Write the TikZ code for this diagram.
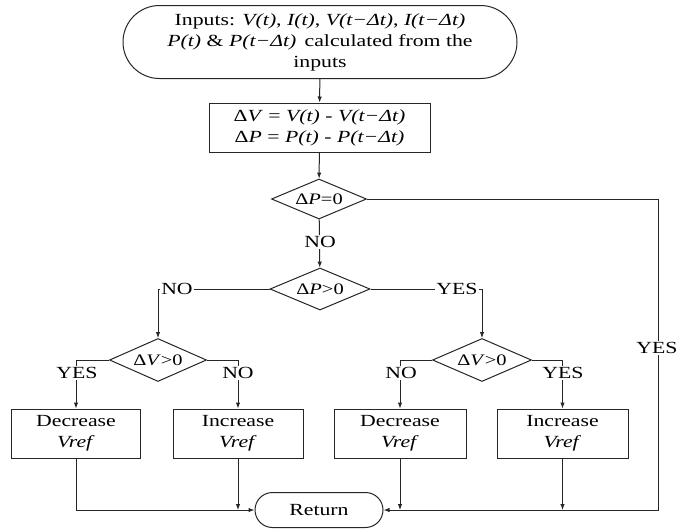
\documentclass[tikz,border=0pt]{standalone}
\usepackage{fontspec}
\setmainfont{Liberation Serif}[FakeStretch=1.28]
\usetikzlibrary{shapes.geometric,shapes.misc,arrows.meta}
\begin{document}
\begin{tikzpicture}[x=1pt,y=-1pt,
  every node/.style={font=\fontsize{17}{21}\selectfont, text=black},
  line/.style={draw=black!85, line width=1pt},
  arr/.style={line, -{Latex[length=6pt,width=4.5pt]}},
  term/.style={rounded rectangle, line, inner sep=0pt, align=center},
  procbox/.style={rectangle, line, inner sep=0pt, align=center, minimum height=49pt},
  decision/.style={diamond, line, inner sep=0pt, aspect=2.4, font=\fontsize{16}{19}\selectfont},
  lbl/.style={fill=white, inner sep=1pt}]
\useasboundingbox (0,0) rectangle (677,528);
\fill[white] (0,0) rectangle (677,528);

\node[term, minimum width=394pt, minimum height=73pt] (in) at (320,42)
  {Inputs: \textit{V(t)}, \textit{I(t)}, \textit{V(t−Δt)}, \textit{I(t−Δt)}\\
   \textit{P(t)} \& \textit{P(t−Δt)}\, calculated from the\\ inputs};
\node[procbox, minimum width=221pt] (calc) at (319.5,127.5)
  {Δ\textit{V} = \textit{V(t)} - \textit{V(t−Δt)}\\ Δ\textit{P} = \textit{P(t)} - \textit{P(t−Δt)}};
\node[decision, minimum width=95pt, minimum height=40pt] (d1) at (319,199) {Δ\textit{P}=0};
\node[decision, minimum width=100pt, minimum height=42pt] (d2) at (320,289) {Δ\textit{P}>0};
\node[decision, minimum width=97pt, minimum height=43pt] (d3) at (158,360) {Δ\textit{V}>0};
\node[decision, minimum width=99pt, minimum height=43pt] (d4) at (482,360) {Δ\textit{V}>0};

\node[procbox, minimum width=129pt] (dec1) at (76,433.5) {Decrease\\ \textit{Vref}};
\node[procbox, minimum width=130pt] (inc1) at (238,433.5) {Increase\\ \textit{Vref}};
\node[procbox, minimum width=132pt] (dec2) at (400,433.5) {Decrease\\ \textit{Vref}};
\node[procbox, minimum width=131pt] (inc2) at (562.5,433.5) {Increase\\ \textit{Vref}};
\node[term, minimum width=128pt, minimum height=35pt] (ret) at (319,510) {Return};
\coordinate (rc) at (658,510);

\draw[arr] (in) -- (calc);
\draw[arr] (calc) -- (d1);
\draw[arr] (d1) -- (d2);
\draw[arr] (d2.west) -| (d3.north);
\draw[arr] (d2.east) -| (d4.north);
\draw[arr] (d3.west) -| (dec1.north);
\draw[arr] (d3.east) -| (inc1.north);
\draw[arr] (d4.west) -| (dec2.north);
\draw[arr] (d4.east) -| (inc2.north);
\draw[arr] (dec1.south) |- (ret.west);
\draw[arr] (inc1.south) -- (inc1.south |- ret.west);
\draw[arr] (d1.east) -| (rc) -- (ret.east);
\draw[arr] (dec2.south) -- (dec2.south |- ret.east);
\draw[arr] (inc2.south) -- (inc2.south |- ret.east);

\node[lbl] (l1) at (320,242) {NO};
\node[lbl] (l2) at (177,289) {NO};
\node[lbl] (l3) at (457,289) {YES};
\node[lbl] (l4) at (77,373) {YES};
\node[lbl] (l5) at (238,373) {NO};
\node[lbl] (l6) at (401,373) {NO};
\node[lbl] (l7) at (563,373) {YES};
\node[lbl] (l8) at (657,348) {YES};
\end{tikzpicture}
\end{document}
